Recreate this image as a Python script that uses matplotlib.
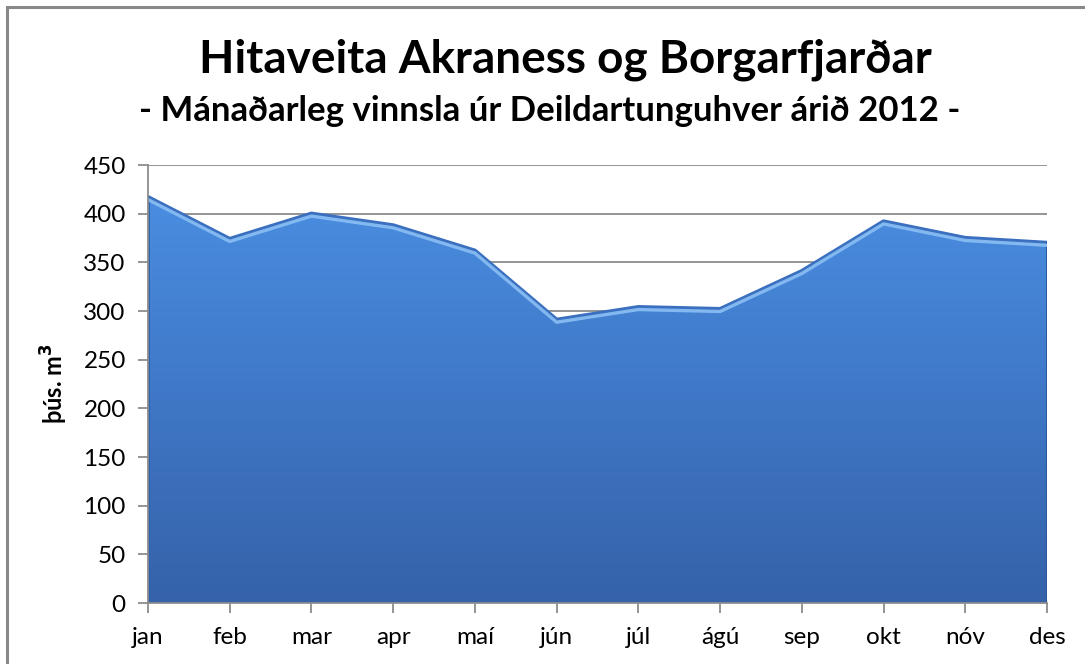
import matplotlib
matplotlib.use("Agg")
import matplotlib.pyplot as plt
import numpy as np
from matplotlib.patches import Polygon, Rectangle
from matplotlib.colors import LinearSegmentedColormap

months = ["jan", "feb", "mar", "apr", "maí", "jún", "júl", "ágú", "sep", "okt", "nóv", "des"]
values = [417, 374, 400, 388, 362, 291, 304, 302, 341, 392, 375, 370]
yticks = [0, 50, 100, 150, 200, 250, 300, 350, 400, 450]

title = "Hitaveita Akraness og Borgarfjarðar"
subtitle = "- Mánaðarleg vinnsla úr Deildartunguhver árið 2012 -"
ylabel = "þús. m$^\\mathbf{3}$"

plt.rcParams['font.family'] = ['Lato', 'DejaVu Sans']

W, H = 1085, 664
fig = plt.figure(figsize=(W / 100, H / 100), dpi=100)
fig.patch.set_facecolor("white")

# outer border
fig.patches.append(Rectangle((7 / W, -0.05), 1.2, (H - 7) / H + 0.05, transform=fig.transFigure,
                             fill=False, edgecolor="#888888", linewidth=2.2))

left, right, top, bottom = 148, 1047, 165, 603
ax = fig.add_axes([left / W, 1 - bottom / H, (right - left) / W, (bottom - top) / H])

x = np.arange(len(months))
ax.set_xlim(0, len(months) - 1)
ax.set_ylim(0, 450)

# gridlines
for yt in yticks[1:]:
    ax.axhline(yt, color="#8c8c8c", linewidth=1.3, zorder=1)

# gradient area
verts = [(0, 0)] + list(zip(x, values)) + [(x[-1], 0)]
poly = Polygon(verts, closed=True, facecolor="none", edgecolor="none")
ax.add_patch(poly)
cmap = LinearSegmentedColormap.from_list("g", ["#3562a9", "#3f77c6", "#4a8de0"])
grad = np.linspace(0, 1, 256).reshape(-1, 1)
im = ax.imshow(grad, extent=[0, x[-1], 0, max(values)], origin="lower", aspect="auto",
               cmap=cmap, zorder=2)
im.set_clip_path(poly)
# bevel highlight along top
ax.plot(x, values, color="#3a70bf", linewidth=3.0, zorder=3, solid_joinstyle="round")
ax.plot(x, np.array(values) - 2.5, color="#8fc3f7", linewidth=2.4, alpha=0.85, zorder=4,
        solid_joinstyle="round")
ax.plot([0, 0], [0, values[0]], color="#2f62ae", linewidth=2, zorder=3)
ax.plot([x[-1], x[-1]], [0, values[-1]], color="#2a5598", linewidth=2, zorder=3)

ax.set_xticks(x)
ax.set_xticklabels(months, fontsize=17.5)
ax.set_yticks(yticks)
ax.set_yticklabels([str(v) for v in yticks], fontsize=17.5)
ax.tick_params(axis="both", direction="out", length=7, width=1.3, color="#8c8c8c",
               labelcolor="black")
ax.tick_params(axis="x", pad=10)
ax.tick_params(axis="y", pad=9)
for s in ["top", "right"]:
    ax.spines[s].set_visible(False)
for s in ["left", "bottom"]:
    ax.spines[s].set_color("#8c8c8c")
    ax.spines[s].set_linewidth(1.3)
    ax.spines[s].set_zorder(5)

ax.set_ylabel(ylabel, fontsize=17, fontweight="bold", labelpad=10)

fig.text(0.521, 1 - 60 / H, title, ha="center", va="center", fontsize=33, fontweight="bold")
fig.text(0.507, 1 - 111 / H, subtitle, ha="center", va="center", fontsize=25, fontweight="bold")

fig.savefig("out.png", dpi=100)
